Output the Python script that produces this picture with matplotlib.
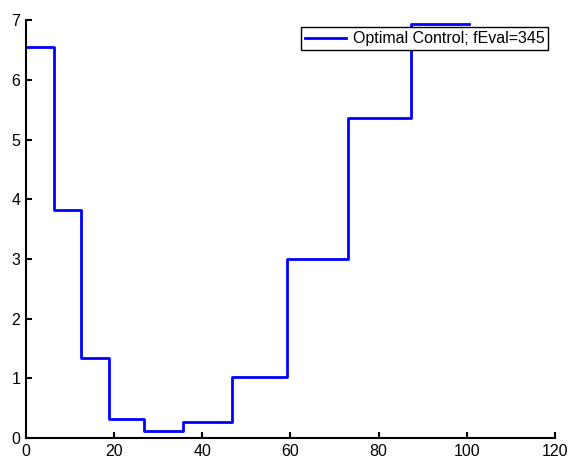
import matplotlib
matplotlib.use("Agg")
import matplotlib.pyplot as plt

# step boundaries (time) and control values
t_edges = [0, 6.4, 12.5, 18.9, 26.8, 35.7, 46.8, 59.2, 73.0, 87.4, 100.5]
u_vals = [6.55, 3.82, 1.34, 0.31, 0.11, 0.27, 1.03, 3.00, 5.36, 6.93]
x_ticks = [0, 20, 40, 60, 80, 100, 120]
y_ticks = [0, 1, 2, 3, 4, 5, 6, 7]
label = "Optimal Control; fEval=345"

plt.rcParams['font.family'] = ['Liberation Sans', 'DejaVu Sans']

fig = plt.figure(figsize=(5.69, 4.59), dpi=100)
ax = fig.add_axes([0.0457, 0.0458, 0.975 - 0.0457, 0.956 - 0.0458])

ax.plot(t_edges, u_vals + [u_vals[-1]], drawstyle='steps-post', color='#0000ff',
        lw=2.0, label=label)

ax.set_xlim(0, 120)
ax.set_ylim(0, 7)
ax.set_xticks(x_ticks)
ax.set_yticks(y_ticks)
for s in ['top', 'right']:
    ax.spines[s].set_visible(False)
for s in ['left', 'bottom']:
    ax.spines[s].set_linewidth(1.5)
ax.tick_params(direction='in', length=4, width=1.5, labelsize=11.5, pad=4)

leg = ax.legend(loc='upper right', bbox_to_anchor=(0.988, 0.983), fontsize=11.5,
                frameon=True, fancybox=False, framealpha=1, edgecolor='black',
                borderpad=0.25, handlelength=2.6, handletextpad=0.4, borderaxespad=0)
leg.get_frame().set_linewidth(1.0)

fig.savefig("out.png", dpi=100)
